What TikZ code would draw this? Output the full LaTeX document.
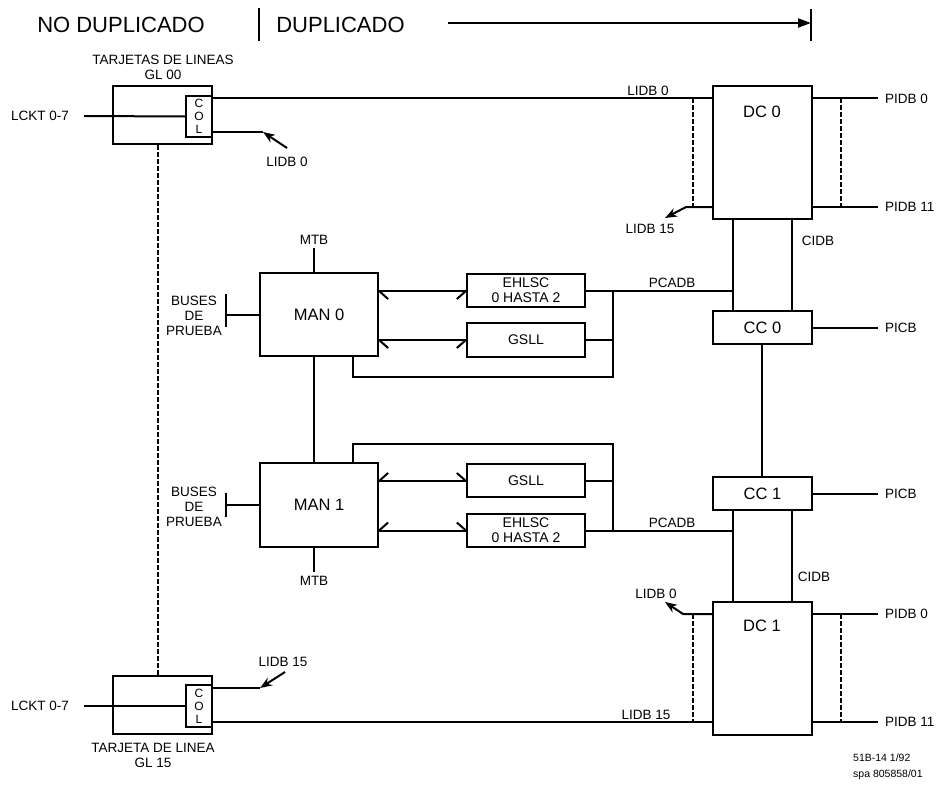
\documentclass[tikz,border=0pt]{standalone}
\usepackage{fontspec}
\setmainfont{Liberation Sans}
\usetikzlibrary{arrows.meta,calc}
\begin{document}
\begin{tikzpicture}[x=1pt,y=-1pt,
  box/.style={draw,line width=2.2pt,inner sep=0pt,align=center},
  ln/.style={line width=2pt},
  dsh/.style={line width=2.2pt,dash pattern=on 4.5pt off 2.5pt},
  lbl/.style={font=\fontsize{13.5}{15}\selectfont,inner sep=0pt,align=center},
  btxt/.style={font=\fontsize{16.5}{20}\selectfont},
  stxt/.style={font=\fontsize{14}{15}\selectfont},
  hdr/.style={font=\fontsize{22}{26}\selectfont,inner sep=0pt},
  colt/.style={font=\fontsize{12}{13}\selectfont},
  foot/.style={font=\fontsize{10.5}{17}\selectfont,inner sep=0pt,anchor=west},
  tipL/.style={-{Stealth[length=12pt,width=9pt]}},
  barb/.style={line width=2pt},
]
\fill[white] (0,0) rectangle (943,787);
\useasboundingbox (0,0) rectangle (943,787);

% header
\node[hdr] (hno) at (121,25) {NO DUPLICADO};
\node[hdr] (hdu) at (340.5,25) {DUPLICADO};
\coordinate (bar1a) at (259,8); \coordinate (bar1b) at (259,41);
\coordinate (arrs) at (448,23); \coordinate (arre) at (811,23);
\coordinate (bar2a) at (811,9); \coordinate (bar2b) at (811,41);
\draw[line width=2.4pt] (bar1a) -- (bar1b);
\draw[ln,-{Triangle[length=13pt,width=9pt]}] (arrs) -- (arre);
\draw[line width=2.4pt] (bar2a) -- (bar2b);

% line cards
\node[lbl] (gl0t) at (163,67.5) {TARJETAS DE LINEAS\\GL 00};
\node[box,minimum width=99pt,minimum height=58pt] (gl0) at (162.5,115) {};
\node[box,colt,minimum width=26pt,minimum height=41pt] (col0) at (199,116.5) {C\\O\\L};
\node[lbl] (lckt0) at (40,116) {LCKT 0-7};
\coordinate (lckt0e) at (84,116);
\draw[ln] (lckt0e) -- (col0.west);

\node[box,minimum width=99pt,minimum height=58pt] (gl15) at (162.5,705) {};
\node[box,colt,minimum width=26pt,minimum height=42pt] (col15) at (199,706) {C\\O\\L};
\node[lbl] (gl15t) at (153,755) {TARJETA DE LINEA\\GL 15};
\node[lbl] (lckt15) at (40,706) {LCKT 0-7};
\coordinate (lckt15e) at (84,706);
\draw[ln] (lckt15e) -- (col15.west);

\draw[dsh] (158,0 |- gl0.south) -- (158,0 |- gl15.north);

% DC / CC column
\node[box,minimum width=99pt,minimum height=133pt] (dc0) at (762.5,152.5) {};
\node[btxt,inner sep=0pt] (dc0t) at (762,112) {DC 0};
\node[box,btxt,minimum width=99pt,minimum height=33pt] (cc0) at (762.5,327.5) {CC 0};
\node[box,btxt,minimum width=99pt,minimum height=33pt] (cc1) at (762.5,493.5) {CC 1};
\node[box,minimum width=99pt,minimum height=133pt] (dc1) at (762.5,668.5) {};
\node[btxt,inner sep=0pt] (dc1t) at (762,626) {DC 1};

% LIDB top
\draw[ln] (col0.east |- 0,98) -- (dc0.west |- 0,98);
\node[lbl] (lidb0a) at (648,91) {LIDB 0};
\coordinate (c0b) at (263,132);
\draw[ln] (col0.east |- 0,132) -- (c0b);
\coordinate (a0t) at (287,148);
\draw[ln,tipL] (a0t) -- (c0b);
\node[lbl] (lidb0b) at (287,162) {LIDB 0};

% DC0 left lower
\coordinate (d0k) at (686,207); \coordinate (d0e) at (665,218);
\draw[ln,tipL] (dc0.west |- 0,207) -- (d0k) -- (d0e);
\node[lbl] (lidb15a) at (650,229) {LIDB 15};
\draw[dsh] (693,98) -- (693,207);
\draw[dsh] (841,98) -- (841,207);
\draw[ln] (dc0.east |- 0,98) -- (878,98);
\draw[ln] (dc0.east |- 0,207) -- (878,207);
\node[lbl,anchor=west] (pidb0a) at (885,99) {PIDB 0};
\node[lbl,anchor=west] (pidb11a) at (885,207) {PIDB 11};

% CIDB
\draw[ln] (733,0 |- dc0.south) -- (733,0 |- cc0.north);
\draw[ln] (792,0 |- dc0.south) -- (792,0 |- cc0.north);
\node[lbl] (cidb0) at (818,241) {CIDB};
\draw[ln] (762,0 |- cc0.south) -- (762,0 |- cc1.north);
\draw[ln] (cc0.east) -- (878,0 |- cc0.east);
\node[lbl,anchor=west] (picb0) at (885,327.5) {PICB};
\draw[ln] (cc1.east) -- (878,0 |- cc1.east);
\node[lbl,anchor=west] (picb1) at (885,493.5) {PICB};
\draw[ln] (733,0 |- cc1.south) -- (733,0 |- dc1.north);
\draw[ln] (792,0 |- cc1.south) -- (792,0 |- dc1.north);
\node[lbl] (cidb1) at (814,577) {CIDB};

% DC1
\coordinate (d1k) at (683,614); \coordinate (d1e) at (665,602);
\draw[ln,tipL] (dc1.west |- 0,614) -- (d1k) -- (d1e);
\node[lbl] (lidb0c) at (656,594) {LIDB 0};
\draw[dsh] (693,614) -- (693,722);
\draw[dsh] (841,614) -- (841,722);
\draw[ln] (dc1.east |- 0,614) -- (878,614);
\draw[ln] (dc1.east |- 0,722) -- (878,722);
\node[lbl,anchor=west] (pidb0b) at (885,614) {PIDB 0};
\node[lbl,anchor=west] (pidb11b) at (885,722) {PIDB 11};
\draw[ln] (col15.east |- 0,722) -- (dc1.west |- 0,722);
\node[lbl] (lidb15c) at (646,715) {LIDB 15};
\coordinate (c15b) at (260,688);
\draw[ln] (col15.east |- 0,688) -- (c15b);
\coordinate (a15t) at (285,672);
\draw[ln,tipL] (a15t) -- (c15b);
\node[lbl] (lidb15b) at (283,662) {LIDB 15};

% MAN 0
\node[box,btxt,minimum width=118pt,minimum height=83pt] (man0) at (319,314.5) {MAN 0};
\node[box,stxt,minimum width=118pt,minimum height=33pt] (eh0) at (526,290.5) {EHLSC\\0 HASTA 2};
\node[box,stxt,minimum width=118pt,minimum height=34pt] (gs0) at (526,340) {GSLL};
\draw[ln] (man0.east |- 0,291) -- (eh0.west |- 0,291);
\draw[barb] (man0.east |- 0,291) -- ++(9,8);
\draw[barb] (eh0.west |- 0,291) -- ++(-9,8);
\draw[ln] (man0.east |- 0,340) -- (gs0.west);
\draw[barb] (man0.east |- 0,340) -- ++(9,8);
\draw[barb] (gs0.west) -- ++(-9,8);
\draw[ln] (eh0.east) -- (733,0 |- eh0.east);
\node[lbl] (pcadb0) at (672,283) {PCADB};
\coordinate (b0t) at (613,290.5); \coordinate (b0b) at (613,377); \coordinate (b0l) at (353,377);
\draw[ln] (b0t) -- (b0b) -- (b0l) -- (353,0 |- man0.south);
\draw[ln] (gs0.east) -- (613,0 |- gs0.east);
\coordinate (mtb0e) at (314,248);
\draw[ln] (314,0 |- man0.north) -- (mtb0e);
\node[lbl] (mtb0) at (314,240) {MTB};
\coordinate (tb0) at (226,315);
\draw[ln] (man0.west |- tb0) -- (tb0);
\draw[ln] (226,294) -- (226,327);
\node[lbl] (bus0) at (194,316) {BUSES\\DE\\PRUEBA};

% MAN 1
\node[box,btxt,minimum width=118pt,minimum height=84pt] (man1) at (319,505) {MAN 1};
\node[box,stxt,minimum width=118pt,minimum height=33pt] (gs1) at (526,480.5) {GSLL};
\node[box,stxt,minimum width=118pt,minimum height=33pt] (eh1) at (526,530.5) {EHLSC\\0 HASTA 2};
\draw[ln] (314,0 |- man0.south) -- (314,0 |- man1.north);
\draw[ln] (man1.east |- 0,481) -- (gs1.west |- 0,481);
\draw[barb] (man1.east |- 0,481) -- ++(9,-8);
\draw[barb] (gs1.west |- 0,481) -- ++(-9,-8);
\draw[ln] (man1.east |- 0,530.5) -- (eh1.west);
\draw[barb] (man1.east |- 0,530.5) -- ++(9,-8);
\draw[barb] (eh1.west) -- ++(-9,-8);
\draw[ln] (eh1.east) -- (733,0 |- eh1.east);
\node[lbl] (pcadb1) at (672,523) {PCADB};
\coordinate (b1t) at (353,444); \coordinate (b1r) at (613,444); \coordinate (b1b) at (613,530.5);
\draw[ln] (353,0 |- man1.north) -- (b1t) -- (b1r) -- (b1b);
\draw[ln] (gs1.east) -- (613,0 |- gs1.east);
\coordinate (mtb1e) at (314,572);
\draw[ln] (314,0 |- man1.south) -- (mtb1e);
\node[lbl] (mtb1) at (314,581) {MTB};
\coordinate (tb1) at (226,505);
\draw[ln] (man1.west |- tb1) -- (tb1);
\draw[ln] (226,493) -- (226,517);
\node[lbl] (bus1) at (194,507) {BUSES\\DE\\PRUEBA};

% footnote
\node[foot] (f1) at (853,758) {51B-14 1/92};
\node[foot] (f2) at (853,775) {spa 805858/01};
\end{tikzpicture}
\end{document}
